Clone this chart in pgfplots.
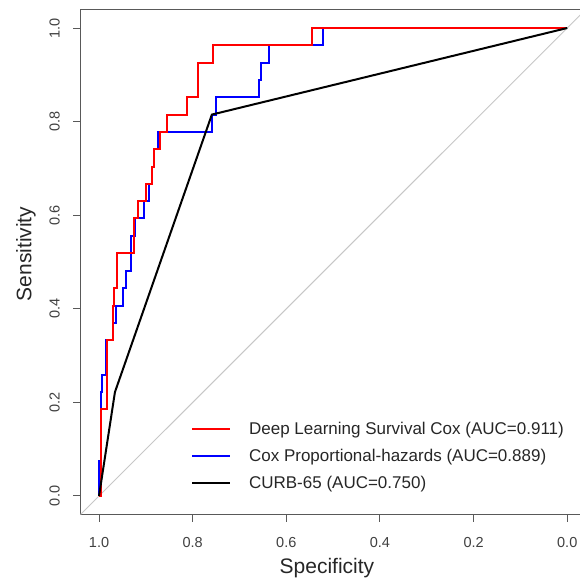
\documentclass[border=0pt]{standalone}
\usepackage{pgfplots}
\pgfplotsset{compat=1.18}
\usepackage{pgfplotstable}
\usepackage{fontspec}
\setmainfont{Liberation Sans}
\usetikzlibrary{calc}

\pgfplotstableread{
spec sens
1.000 0.000
0.996 0.000
0.996 0.185
0.982 0.185
0.982 0.333
0.971 0.333
0.971 0.407
0.968 0.407
0.968 0.444
0.962 0.444
0.962 0.519
0.926 0.519
0.926 0.593
0.916 0.593
0.916 0.630
0.900 0.630
0.900 0.667
0.886 0.667
0.886 0.704
0.882 0.704
0.882 0.741
0.870 0.741
0.870 0.778
0.854 0.778
0.854 0.815
0.813 0.815
0.813 0.852
0.788 0.852
0.788 0.926
0.756 0.926
0.756 0.963
0.545 0.963
0.545 1.000
0.000 1.000
}\dlcox

\pgfplotstableread{
spec sens
1.000 0.000
1.000 0.074
0.996 0.074
0.996 0.222
0.9935 0.222
0.9935 0.259
0.986 0.259
0.986 0.333
0.971 0.333
0.971 0.370
0.964 0.370
0.964 0.407
0.948 0.407
0.948 0.444
0.943 0.444
0.943 0.481
0.931 0.481
0.931 0.556
0.924 0.556
0.924 0.593
0.905 0.593
0.905 0.630
0.893 0.630
0.893 0.667
0.886 0.667
0.886 0.704
0.882 0.704
0.882 0.741
0.873 0.741
0.873 0.778
0.759 0.778
0.759 0.815
0.750 0.815
0.750 0.852
0.6575 0.852
0.6575 0.889
0.654 0.889
0.654 0.926
0.638 0.926
0.638 0.963
0.5215 0.963
0.5215 1.000
0.000 1.000
}\coxph

\pgfplotstableread{
spec sens
1.000 0.000
0.966 0.222
0.759 0.815
0.000 1.000
}\curb

\begin{document}
\begin{tikzpicture}
\begin{axis}[
  name=ax,
  width=505.7pt, height=505.4pt, scale only axis,
  xmin=-0.04, xmax=1.04, ymin=-0.04, ymax=1.04,
  x dir=reverse,
  xtick={0,0.2,0.4,0.6,0.8,1},
  ytick={0,0.2,0.4,0.6,0.8,1},
  xticklabels={0.0,0.2,0.4,0.6,0.8,1.0},
  yticklabels={0.0,0.2,0.4,0.6,0.8,1.0},
  tick align=outside, major tick length=7pt,
  xtick pos=left, ytick pos=left,
  tick style={black!65, line width=1pt},
  axis line style={black!65, line width=1pt},
  ticklabel style={font=\fontsize{14.5}{17}\selectfont, text=black!75},
  yticklabel style={rotate=90, anchor=south},
  xticklabel shift=12pt,
  yticklabel shift=10pt,
  xlabel={Specificity}, ylabel={Sensitivity},
  label style={font=\fontsize{21}{25}\selectfont, text=black!85},
  xlabel style={at={(axis description cs:0.4878,-0.1055)}, anchor=center},
  ylabel style={at={(axis description cs:-0.1074,0.5158)}, anchor=center},
  legend style={at={(axis cs:0.8034,0.1603)}, anchor=north west, draw=none, fill=none,
    font=\fontsize{17}{20}\selectfont, text=black!85, inner sep=0pt, outer sep=0pt,
    row sep=11pt, column sep=18pt,
    nodes={inner sep=0pt, text height=14pt, text depth=2pt}},
  legend cell align=left,
  legend image code/.code={\draw[#1] (0pt,0pt) -- (38pt,0pt);},
]
\addlegendimage{red, line width=2pt}
\addlegendentry{Deep Learning Survival Cox (AUC=0.911)}
\addlegendimage{blue, line width=2pt}
\addlegendentry{Cox Proportional-hazards (AUC=0.889)}
\addlegendimage{black, line width=2pt}
\addlegendentry{CURB-65 (AUC=0.750)}

\addplot[forget plot, black!22, line width=1pt] coordinates {(1.04,-0.04) (-0.04,1.04)};
\addplot[forget plot, blue, line width=2pt] table[x=spec, y=sens] {\coxph};
\addplot[forget plot, red, line width=2pt] table[x=spec, y=sens] {\dlcox};
\addplot[forget plot, black, line width=2pt] table[x=spec, y=sens] {\curb};
\end{axis}
\pgfresetboundingbox
\path[use as bounding box] ($(ax.south west)+(-80.3pt,-69.3pt)$) rectangle ($(ax.north east)+(-6pt,9.3pt)$);
\end{tikzpicture}
\end{document}
